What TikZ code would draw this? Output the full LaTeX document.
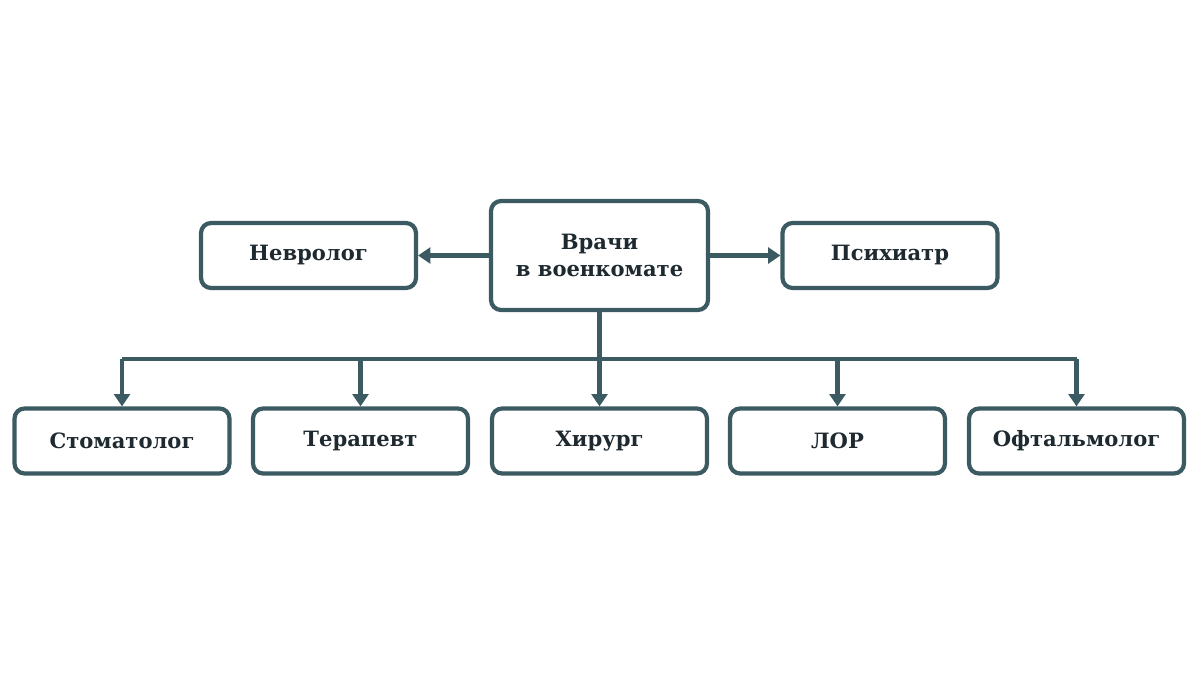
\documentclass[tikz,border=0pt]{standalone}
\usepackage{fontspec}
\setmainfont{DejaVu Serif}
\usetikzlibrary{arrows.meta}
\definecolor{ln}{HTML}{3B5A61}
\definecolor{tx}{HTML}{1E2A30}
\begin{document}
\begin{tikzpicture}[x=0.02cm,y=-0.02cm,
  box/.style={draw=ln,line width=2.4pt,rounded corners=0.2cm,fill=white,text=tx,font=\bfseries\fontsize{12}{15}\selectfont,align=center,inner sep=0pt},
  sm/.style={box,minimum width=4.3cm,minimum height=1.3cm},
  con/.style={draw=ln,line width=2.4pt,-{Triangle[length=7pt,width=9pt]}}]
\useasboundingbox[fill=white] (0,0) rectangle (1200,675);
\node[box,minimum width=4.34cm,minimum height=2.18cm] (c) at (599.5,255.5) {Врачи\\в военкомате};
\node[sm] (n) at (308.5,255.5) {Невролог};
\node[sm] (p) at (890,255.5) {Психиатр};
\node[sm] (b1) at (122,441) {Стоматолог};
\node[sm] (b2) at (360.5,441) {Терапевт};
\node[sm] (b3) at (599.5,441) {Хирург};
\node[sm] (b4) at (837.5,441) {ЛОР};
\node[sm] (b5) at (1076.5,441) {Офтальмолог};
\draw[con] (c) -- (n);
\draw[con] (c) -- (p);
\coordinate (j) at (599.5,359);
\draw[draw=ln,line width=2.4pt] (c.south) -- (j);
\draw[draw=ln,line width=2.4pt] (b1.north |- j) -- (b5.north |- j);
\foreach \b in {b1,b2,b3,b4,b5} \draw[con] (\b.north |- j) -- (\b.north);
\end{tikzpicture}
\end{document}
